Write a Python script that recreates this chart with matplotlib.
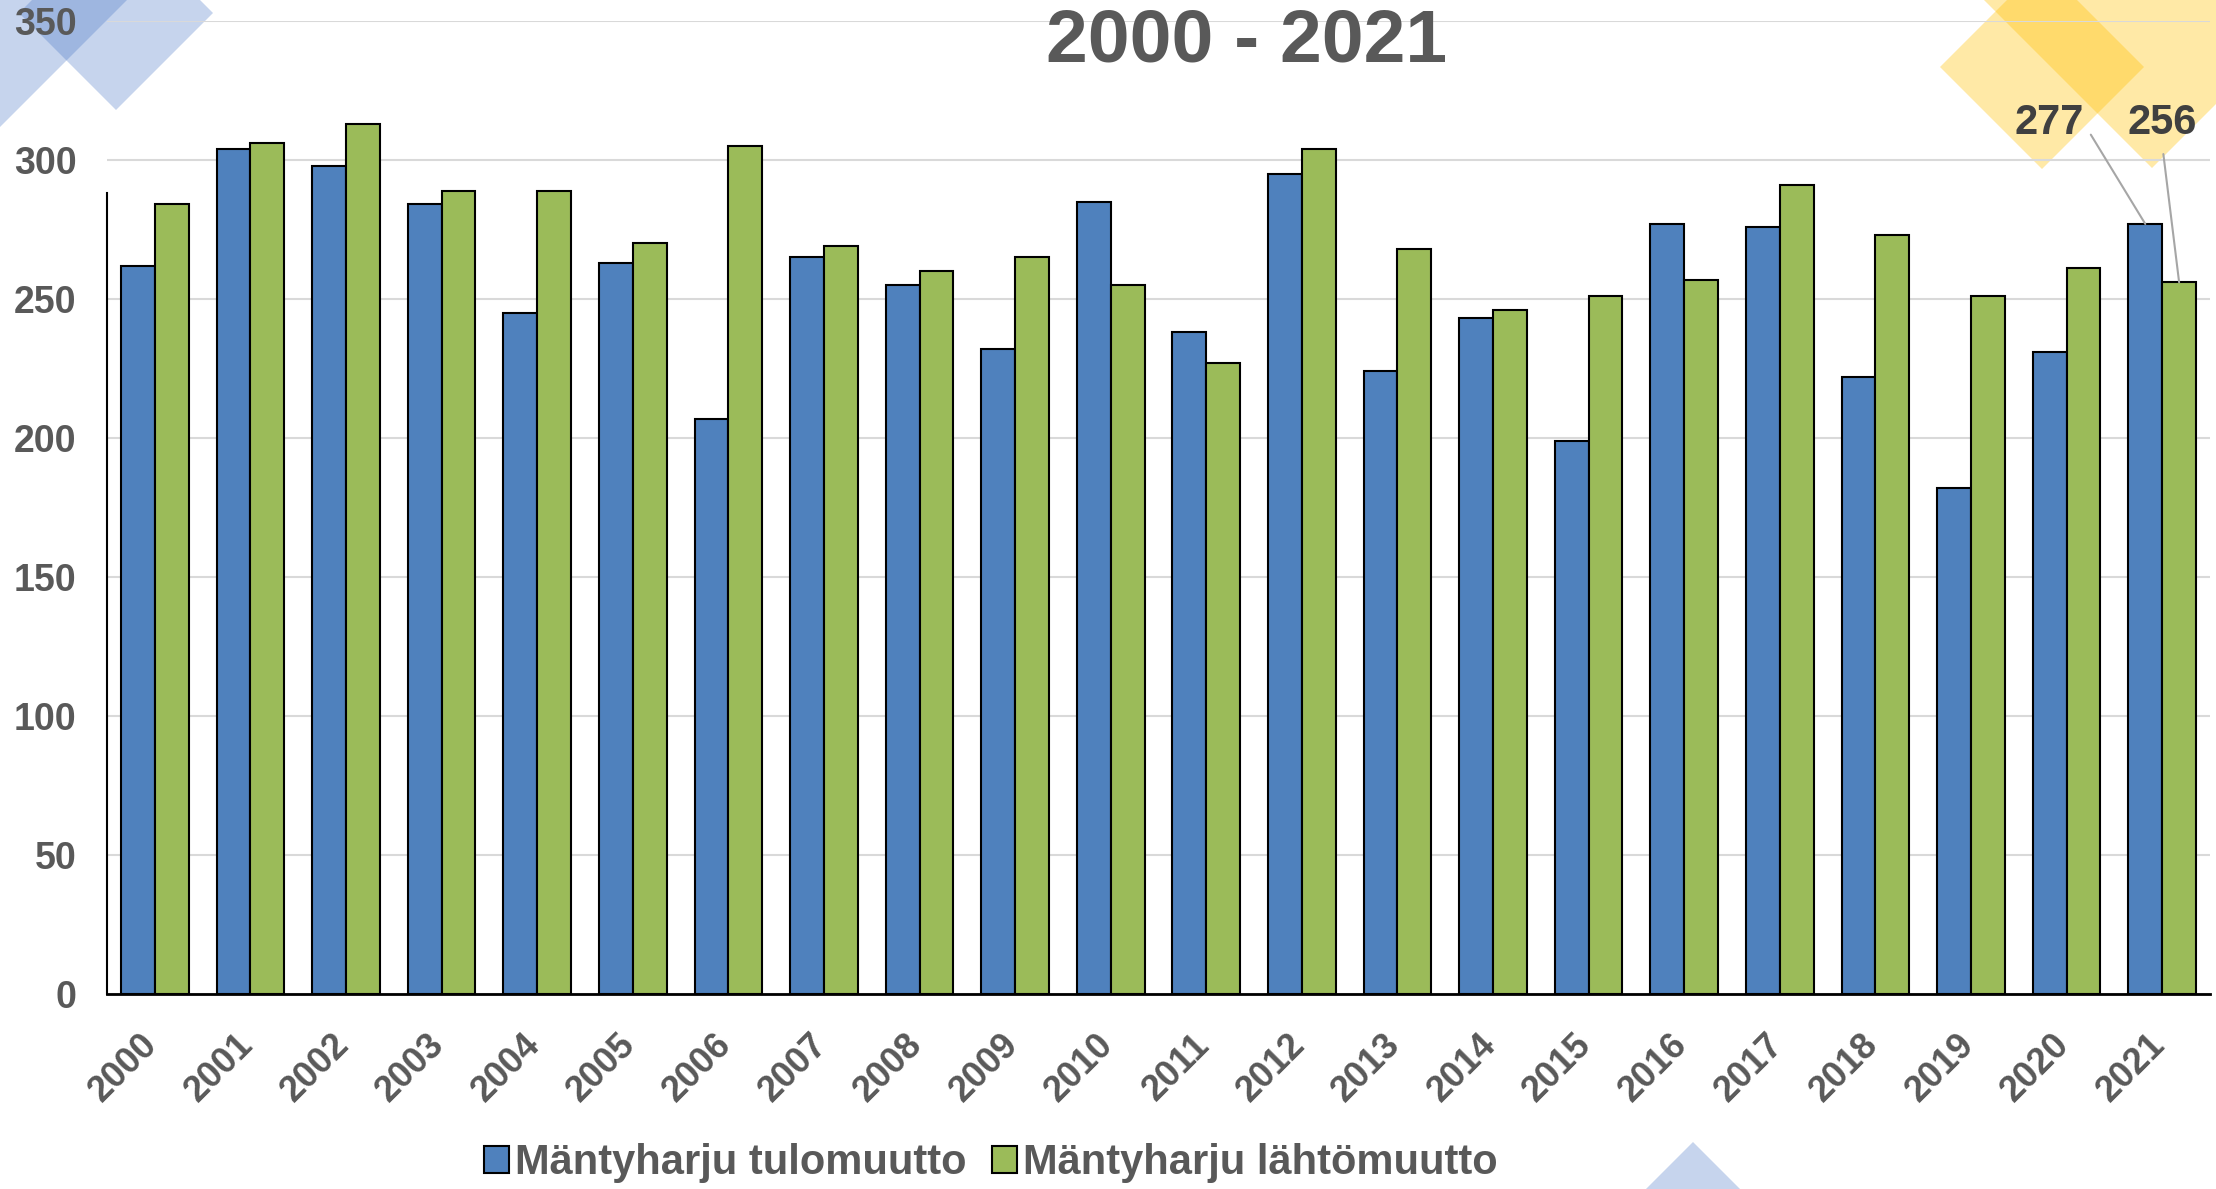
import numpy as np
import matplotlib
matplotlib.use("Agg")
import matplotlib.pyplot as plt
import matplotlib.transforms as mtransforms
from matplotlib.patches import Polygon

years = [str(y) for y in range(2000, 2022)]
tulomuutto = [262, 304, 298, 284, 245, 263, 207, 265, 255, 232, 285,
              238, 295, 224, 243, 199, 277, 276, 222, 182, 231, 277]
lahtomuutto = [284, 306, 313, 289, 289, 270, 305, 269, 260, 265, 255,
               227, 304, 268, 246, 251, 257, 291, 273, 251, 261, 256]
series_names = ["Mäntyharju tulomuutto", "Mäntyharju lähtömuutto"]
title_text = "2000 - 2021"

W, H = 2216, 1189
TEXT = "#595959"
plt.rcParams['font.family'] = ['Liberation Sans', 'DejaVu Sans']

fig = plt.figure(figsize=(W / 100, H / 100), dpi=100)


def px(x, y):
    # pixel (top-left origin) -> figure fraction
    return (x / W, 1 - y / H)


def diamond(cx, cy, r, color, alpha):
    pts = [px(cx, cy - r), px(cx + r, cy), px(cx, cy + r), px(cx - r, cy)]
    p = Polygon(pts, closed=True, transform=fig.transFigure, facecolor=color,
                edgecolor='none', alpha=alpha, zorder=-1)
    fig.patches.append(p)


# background decorations
diamond(0, 0, 127, "#4472c4", 0.3)
diamond(116, 13, 97, "#4472c4", 0.3)
diamond(2042, 67, 102, "#ffc000", 0.35)
diamond(2152, -15, 183, "#ffc000", 0.35)
diamond(1693, 1242, 100, "#4472c4", 0.3)

left, right, top, bottom = 107, 2210, 21, 994
ax = fig.add_axes([left / W, 1 - bottom / H, (right - left) / W, (bottom - top) / H])
ax.patch.set_alpha(0)

x = np.arange(len(years))
w = 0.354
b1 = ax.bar(x - w / 2, tulomuutto, w, color="#4f81bd", edgecolor="black",
            linewidth=1.5, label=series_names[0], zorder=3)
b2 = ax.bar(x + w / 2, lahtomuutto, w, color="#9bbb59", edgecolor="black",
            linewidth=1.5, label=series_names[1], zorder=3)

ax.set_xlim(-0.5, len(years) - 0.5)
ax.set_ylim(0, 350)
ax.set_yticks(np.arange(0, 351, 50))
ax.grid(axis='y', color="#d9d9d9", linewidth=1.5, zorder=0)
ax.set_axisbelow(True)

for s in ["top", "right"]:
    ax.spines[s].set_visible(False)
ax.spines["left"].set_linewidth(1.5)
ax.spines["left"].set_bounds(0, 288)
ax.spines["bottom"].set_linewidth(2)

ax.tick_params(axis='y', length=0, pad=22, labelsize=27, labelcolor=TEXT)
ax.tick_params(axis='x', length=0, pad=24, labelsize=26, labelcolor=TEXT)
ax.set_xticks(x)
ax.set_xticklabels(years, rotation=45, ha='right')
shift = mtransforms.ScaledTranslation(0.10, 0, fig.dpi_scale_trans)
for lab in ax.get_xticklabels():
    lab.set_transform(lab.get_transform() + shift)
for lab in ax.get_yticklabels() + ax.get_xticklabels():
    lab.set_fontweight('bold')

fig.text(1247 / W, 1 - 42 / H, title_text, ha='center', va='center',
         fontsize=54, fontweight='bold', color=TEXT)

# value labels for the last year
ax.annotate(str(tulomuutto[-1]), xy=(x[-1] - w / 2, tulomuutto[-1]),
            xytext=(2049, H - 123), textcoords='figure pixels',
            ha='center', va='center', fontsize=30, fontweight='bold', color="#404040",
            arrowprops=dict(arrowstyle='-', color="#a6a6a6", lw=1.5,
                            relpos=(1.0, 0.5), shrinkA=6, shrinkB=0))
ax.annotate(str(lahtomuutto[-1]), xy=(x[-1] + w / 2, lahtomuutto[-1]),
            xytext=(2162, H - 123), textcoords='figure pixels',
            ha='center', va='center', fontsize=30, fontweight='bold', color="#404040",
            arrowprops=dict(arrowstyle='-', color="#a6a6a6", lw=1.5,
                            relpos=(0.5, 0.0), shrinkA=6, shrinkB=0))

leg = fig.legend(handles=[b1, b2], loc='center', bbox_to_anchor=px(991, 1163),
                 ncol=2, frameon=False, handlelength=0.6, handleheight=0.6,
                 handletextpad=0.15, columnspacing=0.6, borderpad=0,
                 prop={'size': 30, 'weight': 'bold'})
for t in leg.get_texts():
    t.set_color(TEXT)

fig.savefig("out.png", dpi=100)
